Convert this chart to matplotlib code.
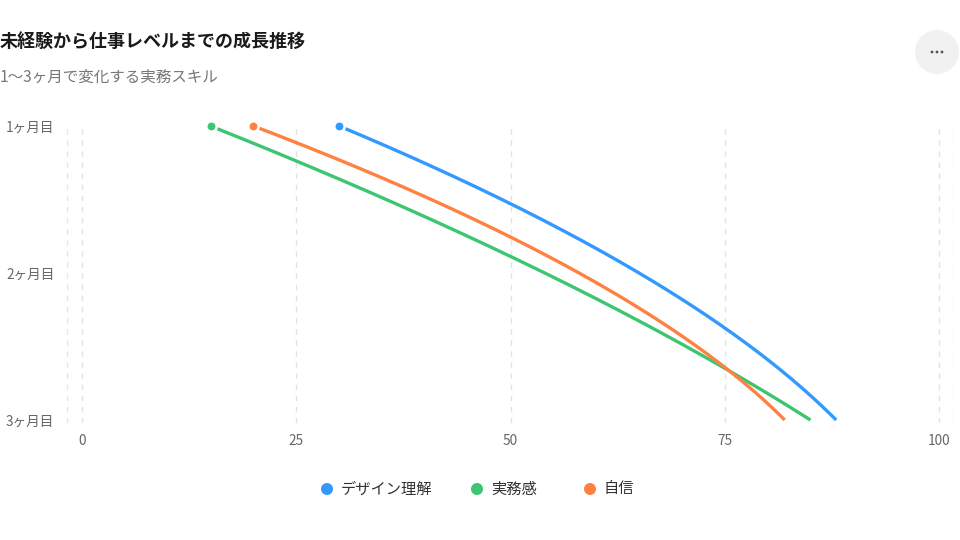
import numpy as np
import matplotlib
matplotlib.use("Agg")
import matplotlib.pyplot as plt
from matplotlib.patches import Circle

plt.rcParams['font.family'] = ['Noto Sans CJK JP', 'DejaVu Sans']

title = "未経験から仕事レベルまでの成長推移"
subtitle = "1〜3ヶ月で変化する実務スキル"
months = ["1ヶ月目", "2ヶ月目", "3ヶ月目"]
series_names = ["デザイン理解", "実務感", "自信"]
design = [30, 65, 88]
practice = [15, 54, 85]
confidence = [20, 58, 82]
colors = ["#3399FF", "#3DC671", "#FF8142"]
xticks = [0, 25, 50, 75, 100]

W, H = 960, 540
fig = plt.figure(figsize=(9.6, 5.4), dpi=100)
fig.patch.set_facecolor("white")

# axes placement (pixel based)
left_px, right_px = 67, 953
top_px, bot_px = 124, 423
ax = fig.add_axes([left_px / W, 1 - bot_px / H, (right_px - left_px) / W, (bot_px - top_px) / H])
ppu_x = (939 - 82) / 100.0
ax.set_xlim(-(82 - left_px) / ppu_x, 100 + (right_px - 939) / ppu_x)
ppu_y = (420 - 126) / 2.0
ax.set_ylim(2 + (bot_px - 420) / ppu_y, -(126 - top_px) / ppu_y)

for s in ax.spines.values():
    s.set_visible(False)

# grid lines
for xv in xticks + [ax.get_xlim()[0], ax.get_xlim()[1]]:
    ax.axvline(xv, color="#E3E3E3", lw=1, ls=(0, (4, 4)), zorder=0)

ypos = np.arange(len(months))
for vals, c, name in zip([design, practice, confidence], colors, series_names):
    coef = np.polyfit(ypos, vals, 2)
    yy = np.linspace(0, 2, 200)
    xx = np.polyval(coef, yy)
    ax.plot(xx, yy, color=c, lw=2.4, solid_capstyle="butt", zorder=2, clip_on=False)
    ax.plot(vals[0], 0, "o", ms=7.5, color=c, mec="white", mew=1.8, zorder=3, clip_on=False)

ax.set_xticks(xticks)
ax.set_xticklabels([str(v) for v in xticks])
ax.set_yticks(ypos)
ax.set_yticklabels(months)
ax.tick_params(axis="both", length=0, colors="#666666", labelsize=9.8)
ax.tick_params(axis="x", pad=8)
ax.tick_params(axis="y", pad=9)

# title & subtitle
fig.text(0 / W, 1 - 41 / H, title, fontsize=13, fontweight="bold", color="#1a1a1a", va="center", ha="left")
fig.text(0 / W, 1 - 77 / H, subtitle, fontsize=11.2, color="#777777", va="center", ha="left")

# menu button
ov = fig.add_axes([0, 0, 1, 1], zorder=-1)
ov.set_xlim(0, W)
ov.set_ylim(H, 0)
ov.axis("off")
ov.add_patch(Circle((937, 52), 22, color="#F1F1F1", lw=0))
for dx in (-5, 0, 5):
    ov.add_patch(Circle((937 + dx, 52), 1.4, color="#555555", lw=0))

# legend
leg_items = [(327, 341), (477, 491), (590, 604)]
for (cx, tx), name, c in zip(leg_items, series_names, colors):
    ov.add_patch(Circle((cx, 489), 6, color=c, lw=0))
    ov.text(tx, 489, name, fontsize=11, color="#333333", va="center", ha="left")

fig.savefig("out.png", dpi=100, facecolor="white")
